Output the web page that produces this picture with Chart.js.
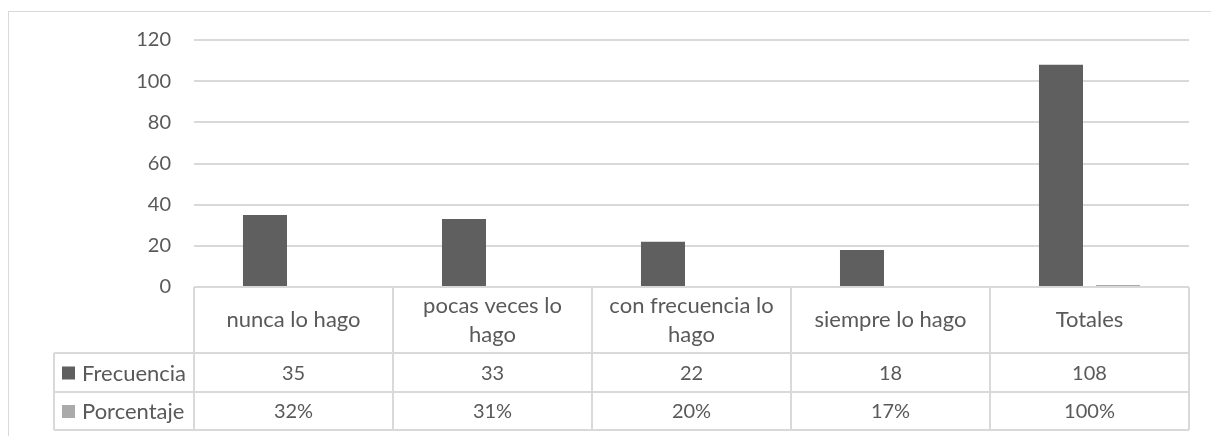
<!DOCTYPE html>
<html>
<head>
<meta charset="utf-8">
<script src="https://cdn.jsdelivr.net/npm/chart.js@4"></script>
<style>
  html, body { margin: 0; padding: 0; background: #fff; }
  #wrap { width: 1211px; height: 436px; }
</style>
</head>
<body>
<div id="wrap"><canvas id="myChart" width="1211" height="436"></canvas></div>
<script>
const categories = ['nunca lo hago', 'pocas veces lo hago', 'con frecuencia lo hago', 'siempre lo hago', 'Totales'];
const frecuencia = [35, 33, 22, 18, 108];
const porcentaje = [0.32, 0.31, 0.20, 0.17, 1.00];
const yTicks = [0, 20, 40, 60, 80, 100, 120];

const FONT = 'Lato, "Open Sans", sans-serif';
const TEXT = '#595959';
const LINE = '#d9d9d9';
const DARK = '#5f5f5f';
const LIGHT = '#aaaaaa';

function wrapText(ctx, text, maxW) {
    const words = text.split(' ');
    const lines = [];
    let cur = '';
    words.forEach(w => {
        const test = cur ? cur + ' ' + w : w;
        if (ctx.measureText(test).width > maxW && cur) {
            lines.push(cur);
            cur = w;
        } else {
            cur = test;
        }
    });
    if (cur) lines.push(cur);
    return lines;
}

// draws the outer frame and the data table under the bars
const dataTable = {
    id: 'dataTable',
    afterDraw(chart) {
        const ctx = chart.ctx;
        const x = chart.scales.x;
        const area = chart.chartArea;
        const colW = (area.right - area.left) / categories.length;
        const top = area.bottom;
        const row1 = top + 66, row2 = row1 + 39, row3 = row2 + 38;
        const legLeft = 54;

        ctx.save();
        ctx.strokeStyle = LINE;
        ctx.lineWidth = 1;
        ctx.strokeRect(8.5, 11.5, 1300, 500);

        ctx.lineWidth = 2;
        ctx.beginPath();
        ctx.moveTo(area.left, top); ctx.lineTo(area.right, top);
        [row1, row2, row3].forEach(y => { ctx.moveTo(legLeft, y); ctx.lineTo(area.right, y); });
        ctx.moveTo(legLeft, row1); ctx.lineTo(legLeft, row3);
        for (let i = 0; i <= categories.length; i++) {
            const cx = Math.round(area.left + i * colW);
            ctx.moveTo(cx, top); ctx.lineTo(cx, row3);
        }
        ctx.stroke();

        ctx.fillStyle = TEXT;
        ctx.textAlign = 'center';
        ctx.textBaseline = 'middle';
        categories.forEach((c, i) => {
            const cx = x.getPixelForValue(i);
            ctx.font = '22px ' + FONT;
            const lines = wrapText(ctx, c, colW - 22);
            const lh = 29;
            const y0 = (top + row1) / 2 - (lines.length - 1) * lh / 2;
            lines.forEach((l, k) => ctx.fillText(l, cx, y0 + k * lh));
            ctx.font = '20px ' + FONT;
            ctx.fillText(String(frecuencia[i]), cx, (row1 + row2) / 2 + 1);
            ctx.fillText(Math.round(porcentaje[i] * 100) + '%', cx, (row2 + row3) / 2 + 1);
        });

        // legend keys
        ctx.textAlign = 'left';
        ctx.font = '22px ' + FONT;
        const rows = [['Frecuencia', DARK, (row1 + row2) / 2], ['Porcentaje', LIGHT, (row2 + row3) / 2]];
        rows.forEach(r => {
            ctx.fillStyle = r[1];
            ctx.fillRect(62, r[2] - 6, 13, 13);
            ctx.fillStyle = TEXT;
            ctx.fillText(r[0], 82, r[2] + 1);
        });
        ctx.restore();
    }
};

new Chart(document.getElementById('myChart'), {
    type: 'bar',
    data: {
        labels: categories,
        datasets: [
            { label: 'Frecuencia', data: frecuencia, backgroundColor: DARK, categoryPercentage: 0.573, barPercentage: 0.772 },
            { label: 'Porcentaje', data: porcentaje, backgroundColor: LIGHT, categoryPercentage: 0.573, barPercentage: 0.772 }
        ]
    },
    options: {
        responsive: false,
        animation: false,
        layout: { padding: { left: 0, right: 22, top: 40, bottom: 149 } },
        plugins: { legend: { display: false }, tooltip: { enabled: false } },
        scales: {
            x: { display: false },
            y: {
                min: yTicks[0],
                max: yTicks[yTicks.length - 1],
                afterFit: s => { s.width = 194; },
                afterBuildTicks: s => { s.ticks = yTicks.map(v => ({ value: v })); },
                ticks: { color: TEXT, padding: 23, font: { family: FONT, size: 20 } },
                grid: { color: LINE, lineWidth: 2, drawTicks: false },
                border: { display: false }
            }
        }
    },
    plugins: [dataTable]
});
</script>
</body>
</html>
